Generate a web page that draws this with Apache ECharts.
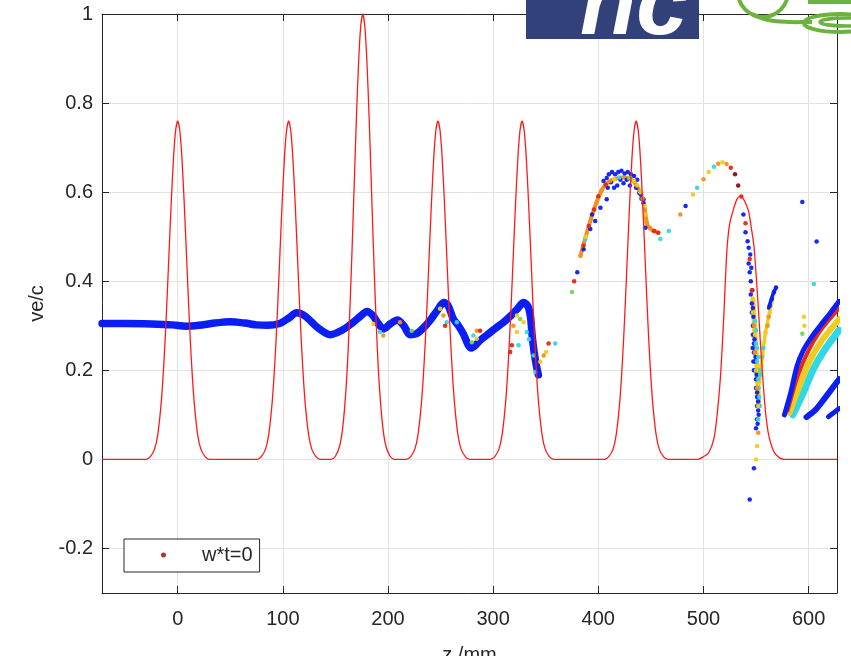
<!DOCTYPE html>
<html><head><meta charset="utf-8">
<script src="https://cdn.jsdelivr.net/npm/echarts@6/dist/echarts.min.js"></script>
<style>html,body{margin:0;padding:0;background:#fff}#c{width:851px;height:656px}</style>
</head><body><div id="c"></div>
<script>
// ---- axis ranges / labels ----
const xRange = [-72, 627];
const yRange = [-0.3, 1];
const xName = 'z /mm';
const yName = 've/c';
const legendName = 'w*t=0';

// ---- red field curve (z, value) ----
const redCurve = [
 [-72,0],[-30,0],[-26,0.006],[-22,0.023],[-19,0.055],[-16,0.119],[-14,0.183],[-12,0.267],[-10,0.368],[-8,0.478],[-6,0.585],[-4,0.677],[-2,0.738],[0,0.76],[2,0.738],[4,0.677],[6,0.585],[8,0.478],[10,0.368],[12,0.267],[14,0.183],[16,0.119],[19,0.055],[22,0.023],[26,0.006],[30,0],
 [75.5,0],[79.5,0.006],[83.5,0.023],[86.5,0.055],[89.5,0.119],[91.5,0.183],[93.5,0.267],[95.5,0.368],[97.5,0.478],[99.5,0.585],[101.5,0.677],[103.5,0.738],[105.5,0.76],[107.5,0.738],[109.5,0.677],[111.5,0.585],[113.5,0.478],[115.5,0.368],[117.5,0.267],[119.5,0.183],[121.5,0.119],[124.5,0.055],[127.5,0.023],[131.5,0.006],[135.5,0],
 [146,0],[150,0.007],[154,0.03],[157,0.073],[160,0.156],[162,0.241],[164,0.352],[166,0.484],[168,0.628],[170,0.77],[172,0.89],[174,0.971],[176,1],[178,0.971],[180,0.89],[182,0.77],[184,0.628],[186,0.484],[188,0.352],[190,0.241],[192,0.156],[195,0.073],[198,0.03],[202,0.007],[206,0],
 [217.5,0],[221.5,0.006],[225.5,0.023],[228.5,0.055],[231.5,0.119],[233.5,0.183],[235.5,0.267],[237.5,0.368],[239.5,0.478],[241.5,0.585],[243.5,0.677],[245.5,0.738],[247.5,0.76],[249.5,0.738],[251.5,0.677],[253.5,0.585],[255.5,0.478],[257.5,0.368],[259.5,0.267],[261.5,0.183],[263.5,0.119],[266.5,0.055],[269.5,0.023],[273.5,0.006],[277.5,0],
 [297.5,0],[301.5,0.006],[305.5,0.023],[308.5,0.055],[311.5,0.119],[313.5,0.183],[315.5,0.267],[317.5,0.368],[319.5,0.478],[321.5,0.585],[323.5,0.677],[325.5,0.738],[327.5,0.76],[329.5,0.738],[331.5,0.677],[333.5,0.585],[335.5,0.478],[337.5,0.368],[339.5,0.267],[341.5,0.183],[343.5,0.119],[346.5,0.055],[349.5,0.023],[353.5,0.006],[357.5,0],
 [406,0],[410,0.006],[414,0.023],[417,0.055],[420,0.119],[422,0.183],[424,0.267],[426,0.368],[428,0.478],[430,0.585],[432,0.677],[434,0.738],[436,0.76],[438,0.738],[440,0.677],[442,0.585],[444,0.478],[446,0.368],[448,0.267],[450,0.183],[452,0.119],[455,0.055],[458,0.023],[462,0.006],[466,0],
 [495,0],[500,0.006],[505,0.015],[510,0.047],[513,0.1],[516,0.18],[518,0.26],[519.5,0.33],[521,0.41],[522.6,0.479],[525,0.53],[529,0.565],[532,0.585],[535,0.591],[538,0.585],[541,0.57],[543.2,0.554],[545.5,0.52],[548,0.479],[551,0.383],[552.7,0.32],[554.3,0.256],[556.5,0.18],[559,0.107],[562,0.055],[567,0.017],[572,0.004],[577,0],[627,0]
];

// ---- main electron band (z, ve/c) ----
const bandPts = [
 [-72,0.305],[-50,0.305],[-25,0.304],[-5,0.302],[8,0.299],[20,0.301],[35,0.306],[50,0.309],[64,0.306],[75,0.302],[85,0.301],[97,0.305],[106,0.318],[113,0.329],[121,0.322],[133,0.296],[145,0.28],[157,0.291],[167,0.308],[174,0.322],[180,0.332],[186,0.322],[190,0.307],[196,0.293],[202,0.304],[209,0.313],[215,0.3],[221,0.28],[227,0.282],[234,0.296],[240,0.312],[247,0.335],[253,0.352],[257,0.346],[262,0.316],[267,0.3],[272,0.28],[276,0.258],[279,0.25],[283,0.256],[288,0.268],[294,0.279],[302,0.294],[310,0.308],[317,0.323],[323,0.338],[329,0.352],[333,0.344],[335.5,0.32],[337,0.28],[339,0.24],[341,0.212],[343,0.19]
];

// ---- arc core and streaks (z, ve/c) ----
const arcCore = [[383,0.457],[388,0.5],[393,0.54],[398,0.575],[403,0.603],[408,0.619],[413,0.627],[418,0.631],[424,0.633],[430,0.63],[435,0.62],[439,0.603],[442,0.585],[444,0.565],[445.5,0.54],[447,0.525],[451,0.515],[457,0.509]];
const fallCore = [[547,0.36],[548.5,0.3],[550,0.24],[551.5,0.18],[552.5,0.12]];
const branchCore = [[553,0.17],[556,0.23],[559,0.285],[562,0.32],[566,0.362]];
const branchTop = [[562,0.34],[566,0.37],[569,0.386]];
const streakTop = [[577,0.1],[583,0.15],[589,0.21],[595,0.245],[603,0.275],[611,0.3],[621,0.33],[629,0.355]];
const streakRed = [[580,0.11],[590,0.19],[600,0.245],[610,0.285],[620,0.315],[629,0.34]];
const streakYellow = [[582,0.105],[592,0.17],[602,0.225],[612,0.265],[622,0.295],[629,0.315]];
const streakCyan = [[585,0.1],[595,0.15],[605,0.205],[615,0.245],[629,0.29]];
const streak2 = [[598,0.095],[606,0.11],[613,0.13],[621,0.155],[629,0.18]];
const streak3 = [[619,0.096],[624,0.105],[629,0.114]];

// ---- scattered particles by colour (z, ve/c) ----
const ptsBlue = [[380,0.42],[386,0.472],[392.4,0.517],[394,0.55],[397,0.535],[402,0.565],[408,0.584],[405,0.625],[408,0.632],[410,0.64],[413,0.645],[416,0.64],[419,0.645],[422,0.648],[425,0.642],[428,0.645],[431,0.64],[434,0.636],[437,0.628],[412,0.622],[418,0.615],[424,0.62],[430,0.615],[421,0.628],[427,0.628],[415,0.61],[409,0.61],[436,0.61],[439,0.598],[441,0.585],[443,0.575],[440.5,0.595],[443,0.584],[444.8,0.52],[483,0.569],
 [538,0.55],[540,0.51],[542,0.49],[543,0.475],[543,0.44],[544,0.42],[545,0.4],[545,0.37],[546,0.35],[546,0.33],[547,0.3],[547,0.28],[548,0.26],[548,0.24],[549,0.22],[549,0.2],[550,0.18],[550,0.16],[551,0.14],[551,0.12],[552,0.11],[551,0.09],[550,0.07],[548,-0.02],[544,-0.09],
 [544.5,0.46],[545.5,0.43],[546.5,0.38],[547,0.34],[547.5,0.32],[548.5,0.27],[549.5,0.23],[550.5,0.19],[551,0.15],[552,0.13],[552.5,0.1],[551.5,0.08],[553,0.12],[548,0.2],[547.5,0.22],[546.8,0.25],
 [563,0.345],[565,0.36],[567,0.375],[569,0.386],[594,0.578],[607.6,0.489]];
const ptsCyan = [[420,0.633],[459,0.495],[467,0.513],[494,0.61],[510,0.657],[550,0.26],[551,0.22],[552,0.18],[553,0.14],[552,0.09],[557,0.25],[554,0.19],[605,0.394],[549,0.31],[550,0.29],[551,0.25],[552,0.23],[553,0.2],[552.5,0.16],[553.5,0.12],[192.4,0.286],[255.9,0.308],[265.4,0.308],[281.2,0.278],[324.1,0.256],[332,0.286],[334,0.27],[338.4,0.233],[340,0.196],[359,0.26],[387.6,0.494]];
const ptsGreen = [[375,0.376],[429,0.632],[222.5,0.289],[279.7,0.263],[325.7,0.315],[556,0.23],[594,0.282]];
const ptsYellow = [[388,0.5],[415,0.629],[434,0.625],[437,0.615],[440,0.6],[444,0.569],[445,0.55],[490,0.595],[505,0.645],[518,0.667],[547,0.33],[549,0.28],[550,0.2],[552,0.12],[551,0.03],[550,0],[559,0.285],[555,0.21],[563,0.33],[595.5,0.32],[596,0.3],[186,0.304],[249.5,0.338],[284.4,0.271],[322.6,0.323],[322.6,0.286],[328.9,0.308],[344.8,0.219],[350.3,0.241]];
const ptsOrange = [[383,0.457],[393,0.54],[398,0.575],[403,0.603],[411,0.625],[442,0.585],[446,0.532],[449,0.52],[478,0.55],[500,0.629],[514,0.664],[522,0.663],[548,0.3],[549,0.24],[551,0.16],[552,0.06],[561,0.3],[562,0.32],[195.5,0.278],[211.4,0.308],[252.7,0.323],[284.4,0.289],[319.3,0.3],[348,0.233]];
const ptsRed = [[377,0.4],[386,0.48],[391,0.524],[396,0.561],[400,0.591],[407,0.617],[453,0.513],[457,0.509],[526,0.655],[536,0.59],[540,0.53],[544,0.45],[546,0.38],[254.3,0.3],[287.6,0.289],[316.2,0.241],[317.8,0.256],[352.7,0.26]];
const ptsDark = [[530,0.64],[533,0.615]];

const C = {blue:'#0a1ef5', cyan:'#2fd8e6', green:'#72d25a', yellow:'#f0cc1c', orange:'#f5901e', red:'#e82616', dark:'#8c1010'};
const FONT = 'Liberation Sans, Arial, Helvetica, sans-serif';
const AX = '#262626';

function lineS(data, color, width, z){
  return {type:'line', data, showSymbol:false, symbol:'none', smooth:0.3, silent:true, z:z||2,
    lineStyle:{color, width, cap:'round', join:'round'}, legendHoverLink:false};
}
function scatS(data, color, z){
  return {type:'scatter', data, symbolSize:4.5, silent:true, z:z||3, itemStyle:{color, opacity:0.95}};
}

const chart = echarts.init(document.getElementById('c'), null, {renderer:'canvas'});
chart.setOption({
  animation:false,
  backgroundColor:'#ffffff',
  grid:{left:102, top:14, width:735, height:579, containLabel:false, outerBoundsMode:'none'},
  xAxis:[{
    type:'value', min:xRange[0], max:xRange[1], splitNumber:7,
    name:xName, nameLocation:'middle', nameGap:52,
    nameTextStyle:{color:AX, fontSize:20, fontFamily:FONT},
    axisLine:{show:true, onZero:false, lineStyle:{color:AX, width:1}},
    axisTick:{show:true, inside:true, length:7, lineStyle:{color:AX}},
    axisLabel:{color:AX, fontSize:20, fontFamily:FONT, margin:16, showMinLabel:false, showMaxLabel:false,
      formatter:v => (Math.abs(v % 100) < 1e-6 ? String(v) : '')},
    splitLine:{show:true, lineStyle:{color:'#e3e3e3', width:1}}
  },{
    type:'value', position:'top', min:xRange[0], max:xRange[1], splitNumber:7,
    axisLine:{show:true, onZero:false, lineStyle:{color:AX, width:1}},
    axisTick:{show:true, inside:true, length:7, lineStyle:{color:AX}},
    axisLabel:{show:false}, splitLine:{show:false}
  }],
  yAxis:[{
    type:'value', min:yRange[0], max:yRange[1], splitNumber:6,
    name:yName, nameLocation:'middle', nameGap:55, nameRotate:90,
    nameTextStyle:{color:AX, fontSize:20, fontFamily:FONT},
    axisLine:{show:true, onZero:false, lineStyle:{color:AX, width:1}},
    axisTick:{show:true, inside:true, length:7, lineStyle:{color:AX}},
    axisLabel:{color:AX, fontSize:20, fontFamily:FONT, margin:9, showMinLabel:false, showMaxLabel:true,
      formatter:v => { const r = Math.round(v*10)/10; if (Math.abs(Math.round(r*5) - r*5) > 1e-6) return ''; return r === 0 ? '0' : String(r); }},
    splitLine:{show:true, lineStyle:{color:'#e3e3e3', width:1}}
  },{
    type:'value', position:'right', min:yRange[0], max:yRange[1], splitNumber:6,
    axisLine:{show:true, onZero:false, lineStyle:{color:AX, width:1}},
    axisTick:{show:true, inside:true, length:7, lineStyle:{color:AX}},
    axisLabel:{show:false}, splitLine:{show:false}
  }],
  legend:{
    show:true, selectedMode:false, left:124, top:539, orient:'vertical',
    data:[{name:legendName, icon:'circle'}],
    itemWidth:5, itemHeight:5,
    borderColor:AX, borderWidth:1, padding:[6,7,7,37], backgroundColor:'#ffffff',
    textStyle:{color:AX, fontSize:20, fontFamily:FONT, rich:{a:{fontSize:20, fontFamily:FONT, color:AX, padding:[0,0,0,31]}}},
    formatter: n => '{a|' + n + '}'
  },
  series:[
    {name:legendName, type:'scatter', data:[], itemStyle:{color:'#a00000'}, symbolSize:5},
    lineS(bandPts, C.blue, 7.5, 2),
    lineS(arcCore, C.orange, 4, 3),
    lineS(fallCore, C.yellow, 5, 3),
    lineS(branchCore, C.yellow, 3.5, 3),
    lineS(branchTop, C.blue, 3.5, 3),
    lineS(streakCyan, C.cyan, 7, 2),
    lineS(streakYellow, C.yellow, 6, 2),
    lineS(streakRed, C.red, 4, 2),
    lineS(streakTop, C.blue, 5, 2),
    lineS(streak2, C.blue, 6, 2),
    lineS(streak3, C.blue, 5, 2),
    scatS(ptsBlue, C.blue, 4),
    scatS(ptsCyan, C.cyan, 4),
    scatS(ptsGreen, C.green, 4),
    scatS(ptsYellow, C.yellow, 4),
    scatS(ptsOrange, C.orange, 4),
    scatS(ptsRed, C.red, 4),
    scatS(ptsDark, C.dark, 4),
    {type:'line', data:redCurve, showSymbol:false, symbol:'none', smooth:0.25, silent:true, z:6,
     lineStyle:{color:'#ff1a1a', width:1.3}}
  ],
  graphic:[
    {type:'rect', shape:{x:526, y:0, width:173, height:39}, style:{fill:'#33417a'}, z:100},
    {type:'text', x:580, y:55, style:{text:'nc', fill:'#ffffff', font:'italic bold 92px Liberation Sans, Arial, sans-serif', verticalAlign:'bottom', textVerticalAlign:'bottom', align:'left'}, z:101},
    {type:'circle', shape:{cx:763, cy:-8, r:25}, style:{fill:'none', stroke:'#6cb23e', lineWidth:4}, z:100},
    {type:'bezierCurve', shape:{x1:752, y1:14, cpx1:770, cpy1:24, cpx2:790, cpy2:22, x2:812, y2:22}, style:{fill:'none', stroke:'#6cb23e', lineWidth:4}, z:100},
    {type:'ellipse', shape:{cx:840, cy:23, rx:36, ry:9}, style:{fill:'none', stroke:'#6cb23e', lineWidth:4}, z:100},
    {type:'ellipse', shape:{cx:846, cy:22, rx:26, ry:4}, style:{fill:'none', stroke:'#6cb23e', lineWidth:3.5}, z:100},
    {type:'rect', shape:{x:808, y:0, width:43, height:4}, style:{fill:'#6cb23e'}, z:100}
  ]
});
</script></body></html>
